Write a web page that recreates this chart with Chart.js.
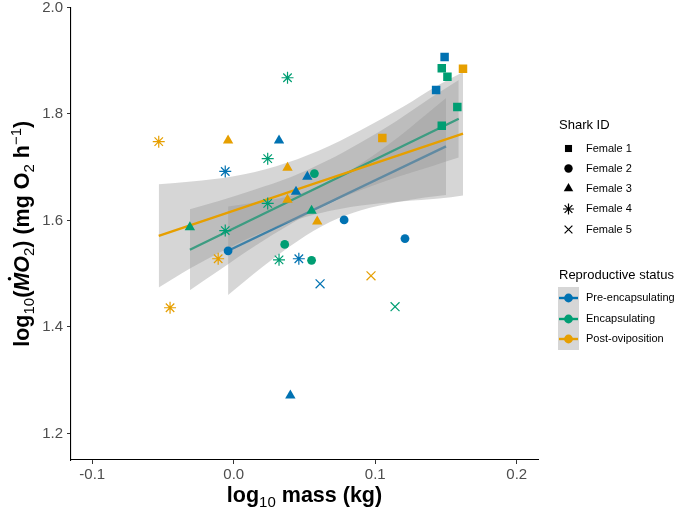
<!DOCTYPE html>
<html>
<head>
<meta charset="utf-8">
<script src="https://cdn.jsdelivr.net/npm/chart.js@4.4.1/dist/chart.umd.min.js"></script>
<style>
  html, body { margin: 0; padding: 0; background: #fff; }
  #wrap { width: 690px; height: 517px; }
</style>
</head>
<body>
<div id="wrap"><canvas id="chart" width="690" height="517"></canvas></div>
<script>
const xTicks = [-0.1, 0.0, 0.1, 0.2];
const yTicks = [1.2, 1.4, 1.6, 1.8, 2.0];

const sharkNames = ['Female 1', 'Female 2', 'Female 3', 'Female 4', 'Female 5'];
const statusNames = ['Pre-encapsulating', 'Encapsulating', 'Post-oviposition'];
const statusColors = ['#0072B2', '#009E73', '#E69F00'];

// points: log10 mass, log10 MO2, shark id (1..5)
const preMass  = [0.149, 0.143, -0.004, 0.078, 0.121, 0.032, 0.052, 0.044, 0.040, -0.006, 0.046, 0.061];
const preMO2   = [1.907, 1.845, 1.543, 1.601, 1.566, 1.750, 1.682, 1.654, 1.271, 1.692, 1.528, 1.481];
const preShark = [1, 1, 2, 2, 2, 3, 3, 3, 3, 4, 4, 5];

const encMass  = [0.147, 0.151, 0.158, 0.147, 0.036, 0.055, 0.057, 0.055, -0.031, 0.038, 0.024, 0.024, -0.006, 0.032, 0.114];
const encMO2   = [1.886, 1.870, 1.813, 1.778, 1.555, 1.525, 1.688, 1.618, 1.587, 1.868, 1.716, 1.632, 1.581, 1.526, 1.438];
const encShark = [1, 1, 1, 1, 2, 2, 2, 3, 3, 4, 4, 4, 4, 4, 5];

const postMass  = [0.162, 0.105, -0.004, 0.038, 0.038, 0.059, -0.053, -0.011, -0.045, 0.097];
const postMO2   = [1.885, 1.755, 1.750, 1.699, 1.639, 1.598, 1.748, 1.528, 1.436, 1.496];
const postShark = [1, 1, 3, 3, 3, 3, 4, 4, 4, 5];

// fitted lines (end points)
const preFitX = [-0.004, 0.150],  preFitY = [1.543, 1.739];
const encFitX = [-0.031, 0.159],  encFitY = [1.545, 1.791];
const postFitX = [-0.053, 0.162], postFitY = [1.571, 1.763];

// confidence bands
const preBandX = [-0.004, 0.02, 0.045, 0.068, 0.09, 0.115, 0.135, 0.150];
const preBandHi = [1.626, 1.636, 1.649, 1.673, 1.707, 1.754, 1.797, 1.830];
const preBandLo = [1.460, 1.512, 1.561, 1.597, 1.619, 1.634, 1.643, 1.648];

const encBandX = [-0.031, -0.01, 0.015, 0.04, 0.065, 0.09, 0.115, 0.14, 0.159];
const encBandHi = [1.621, 1.637, 1.658, 1.681, 1.711, 1.747, 1.787, 1.832, 1.864];
const encBandLo = [1.469, 1.507, 1.552, 1.593, 1.629, 1.657, 1.681, 1.702, 1.718];

const postBandX = [-0.053, -0.03, 0.0, 0.03, 0.06, 0.09, 0.12, 0.145, 0.162];
const postBandHi = [1.668, 1.673, 1.683, 1.702, 1.731, 1.770, 1.814, 1.855, 1.879];
const postBandLo = [1.474, 1.511, 1.553, 1.588, 1.613, 1.628, 1.636, 1.641, 1.647];

const FONT = '"Liberation Sans", Arial, sans-serif';
const bandFill = 'rgba(153,153,153,0.4)';
const shapes = { 1: 'rect', 2: 'circle', 3: 'triangle', 4: 'star', 5: 'crossRot' };
const sizes = { 1: 6, 2: 4.4, 3: 6, 4: 6, 5: 6.3 };

const pts = (xs, ys) => xs.map((x, i) => ({ x: x, y: ys[i] }));

function pointSet(label, xs, ys, ids, color) {
    return {
        type: 'scatter',
        label: label,
        data: pts(xs, ys),
        sharkIds: ids,
        order: 0,
        backgroundColor: color,
        borderColor: color,
        pointStyle: c => shapes[c.dataset.sharkIds[c.dataIndex]],
        pointRadius: c => sizes[c.dataset.sharkIds[c.dataIndex]],
        pointBorderWidth: c => c.dataset.sharkIds[c.dataIndex] >= 4 ? 1.2 : 0
    };
}

function fitLine(xs, ys, color, order) {
    return {
        type: 'line', data: pts(xs, ys), order: order,
        borderColor: color, borderWidth: 2.4, pointRadius: 0, fill: false
    };
}

function band(xs, hi, lo, order) {
    return [{
        type: 'line', data: pts(xs, hi), order: order,
        borderWidth: 0, borderColor: 'rgba(0,0,0,0)', pointRadius: 0, fill: false,
        cubicInterpolationMode: 'monotone'
    }, {
        type: 'line', data: pts(xs, lo), order: order,
        borderWidth: 0, borderColor: 'rgba(0,0,0,0)', pointRadius: 0, fill: '-1',
        backgroundColor: bandFill, cubicInterpolationMode: 'monotone'
    }];
}

const datasets = [
    pointSet(statusNames[0], preMass, preMO2, preShark, statusColors[0]),
    pointSet(statusNames[1], encMass, encMO2, encShark, statusColors[1]),
    pointSet(statusNames[2], postMass, postMO2, postShark, statusColors[2]),
    fitLine(postFitX, postFitY, statusColors[2], 1),
    ...band(postBandX, postBandHi, postBandLo, 2),
    fitLine(encFitX, encFitY, statusColors[1], 3),
    ...band(encBandX, encBandHi, encBandLo, 4),
    fitLine(preFitX, preFitY, statusColors[0], 5),
    ...band(preBandX, preBandHi, preBandLo, 6)
];

// text made of runs with different fonts (subscripts etc.)
function drawRuns(ctx, runs, cx, y) {
    let total = 0;
    runs.forEach(r => { ctx.font = r.f; r.w = ctx.measureText(r.t).width; total += r.w; });
    let x = cx - total / 2;
    runs.forEach(r => {
        ctx.font = r.f;
        ctx.fillText(r.t, x, y + (r.dy || 0));
        if (r.dot) {
            ctx.beginPath();
            ctx.arc(x + r.w / 2 + 3, y - 19, 1.8, 0, Math.PI * 2);
            ctx.fill();
        }
        x += r.w;
    });
}

const B = 'bold 21.5px ' + FONT;
const BI = 'italic bold 21.5px ' + FONT;
const S = '15px ' + FONT;

const extras = {
    id: 'extras',
    afterDraw(chart) {
        const ctx = chart.ctx;
        const area = chart.chartArea;
        ctx.save();
        ctx.fillStyle = '#000';
        ctx.textBaseline = 'alphabetic';
        ctx.textAlign = 'left';

        // x title
        drawRuns(ctx, [
            { t: 'log', f: B }, { t: '10', f: S, dy: 5 }, { t: ' mass (kg)', f: B }
        ], (area.left + area.right) / 2, 502);

        // y title
        ctx.save();
        ctx.translate(28.5, (area.top + area.bottom) / 2);
        ctx.rotate(-Math.PI / 2);
        drawRuns(ctx, [
            { t: 'log', f: B }, { t: '10', f: S, dy: 5 }, { t: '(', f: B },
            { t: 'M', f: BI, dot: true }, { t: 'O', f: BI }, { t: '2', f: S, dy: 5 },
            { t: ') (mg O', f: B }, { t: '2', f: S, dy: 5 }, { t: ' h', f: B },
            { t: '\u22121', f: S, dy: -8 }, { t: ')', f: B }
        ], 0, 0);
        ctx.restore();

        // legend: Shark ID
        ctx.font = '13px ' + FONT;
        ctx.fillText('Shark ID', 559, 129);
        const rowY = [148.5, 168.5, 188.5, 209, 229.5];
        ctx.font = '11px ' + FONT;
        ctx.textBaseline = 'middle';
        sharkNames.forEach((name, i) => {
            const id = i + 1;
            ctx.fillStyle = '#000';
            ctx.strokeStyle = '#000';
            ctx.lineWidth = 1.2;
            Chart.helpers.drawPoint(ctx, {
                pointStyle: shapes[id], radius: id === 1 ? 5 : (id === 2 ? 4.2 : 5.5),
                rotation: 0, borderWidth: id >= 4 ? 1.2 : 0
            }, 568.5, rowY[i]);
            ctx.fillStyle = '#000';
            ctx.fillText(name, 586, rowY[i]);
        });

        // legend: Reproductive status
        ctx.textBaseline = 'alphabetic';
        ctx.font = '13px ' + FONT;
        ctx.fillText('Reproductive status', 559, 279);
        ctx.fillStyle = '#d6d6d6';
        ctx.fillRect(558, 287, 21, 63);
        const keyY = [298, 319, 339];
        ctx.font = '11px ' + FONT;
        ctx.textBaseline = 'middle';
        statusNames.forEach((name, i) => {
            ctx.strokeStyle = statusColors[i];
            ctx.lineWidth = 2.4;
            ctx.beginPath();
            ctx.moveTo(559, keyY[i]);
            ctx.lineTo(578, keyY[i]);
            ctx.stroke();
            ctx.fillStyle = statusColors[i];
            ctx.beginPath();
            ctx.arc(568.5, keyY[i], 4.4, 0, Math.PI * 2);
            ctx.fill();
            ctx.fillStyle = '#000';
            ctx.fillText(name, 586, keyY[i]);
        });
        ctx.restore();
    }
};

const chart = new Chart(document.getElementById('chart'), {
    type: 'scatter',
    data: { datasets: datasets },
    options: {
        responsive: false,
        animation: false,
        events: [],
        layout: { padding: { top: 7, right: 152, left: 0, bottom: 0 } },
        plugins: { legend: { display: false }, tooltip: { enabled: false } },
        scales: {
            x: {
                type: 'linear', min: -0.115, max: 0.215,
                afterBuildTicks: s => { s.ticks = xTicks.map(v => ({ value: v })); },
                afterFit: s => { s.height = 57; s.paddingLeft = 0; s.paddingRight = 0; },
                ticks: {
                    callback: v => v.toFixed(1), color: '#4d4d4d', padding: 3,
                    font: { family: FONT, size: 15, lineHeight: 1 }, maxRotation: 0
                },
                grid: { drawOnChartArea: false, drawTicks: true, tickLength: 4, color: '#333', tickWidth: 1 },
                border: { display: true, color: '#000', width: 1.1 }
            },
            y: {
                type: 'linear', min: 1.15, max: 2.0,
                afterBuildTicks: s => { s.ticks = yTicks.map(v => ({ value: v })); },
                afterFit: s => { s.width = 71; s.paddingTop = 0; s.paddingBottom = 0; },
                ticks: {
                    callback: v => v.toFixed(1), color: '#4d4d4d', padding: 4,
                    font: { family: FONT, size: 15, lineHeight: 1 }
                },
                grid: { drawOnChartArea: false, drawTicks: true, tickLength: 4, color: '#333', tickWidth: 1 },
                border: { display: true, color: '#000', width: 1.1 }
            }
        }
    },
    plugins: [extras]
});
</script>
</body>
</html>
